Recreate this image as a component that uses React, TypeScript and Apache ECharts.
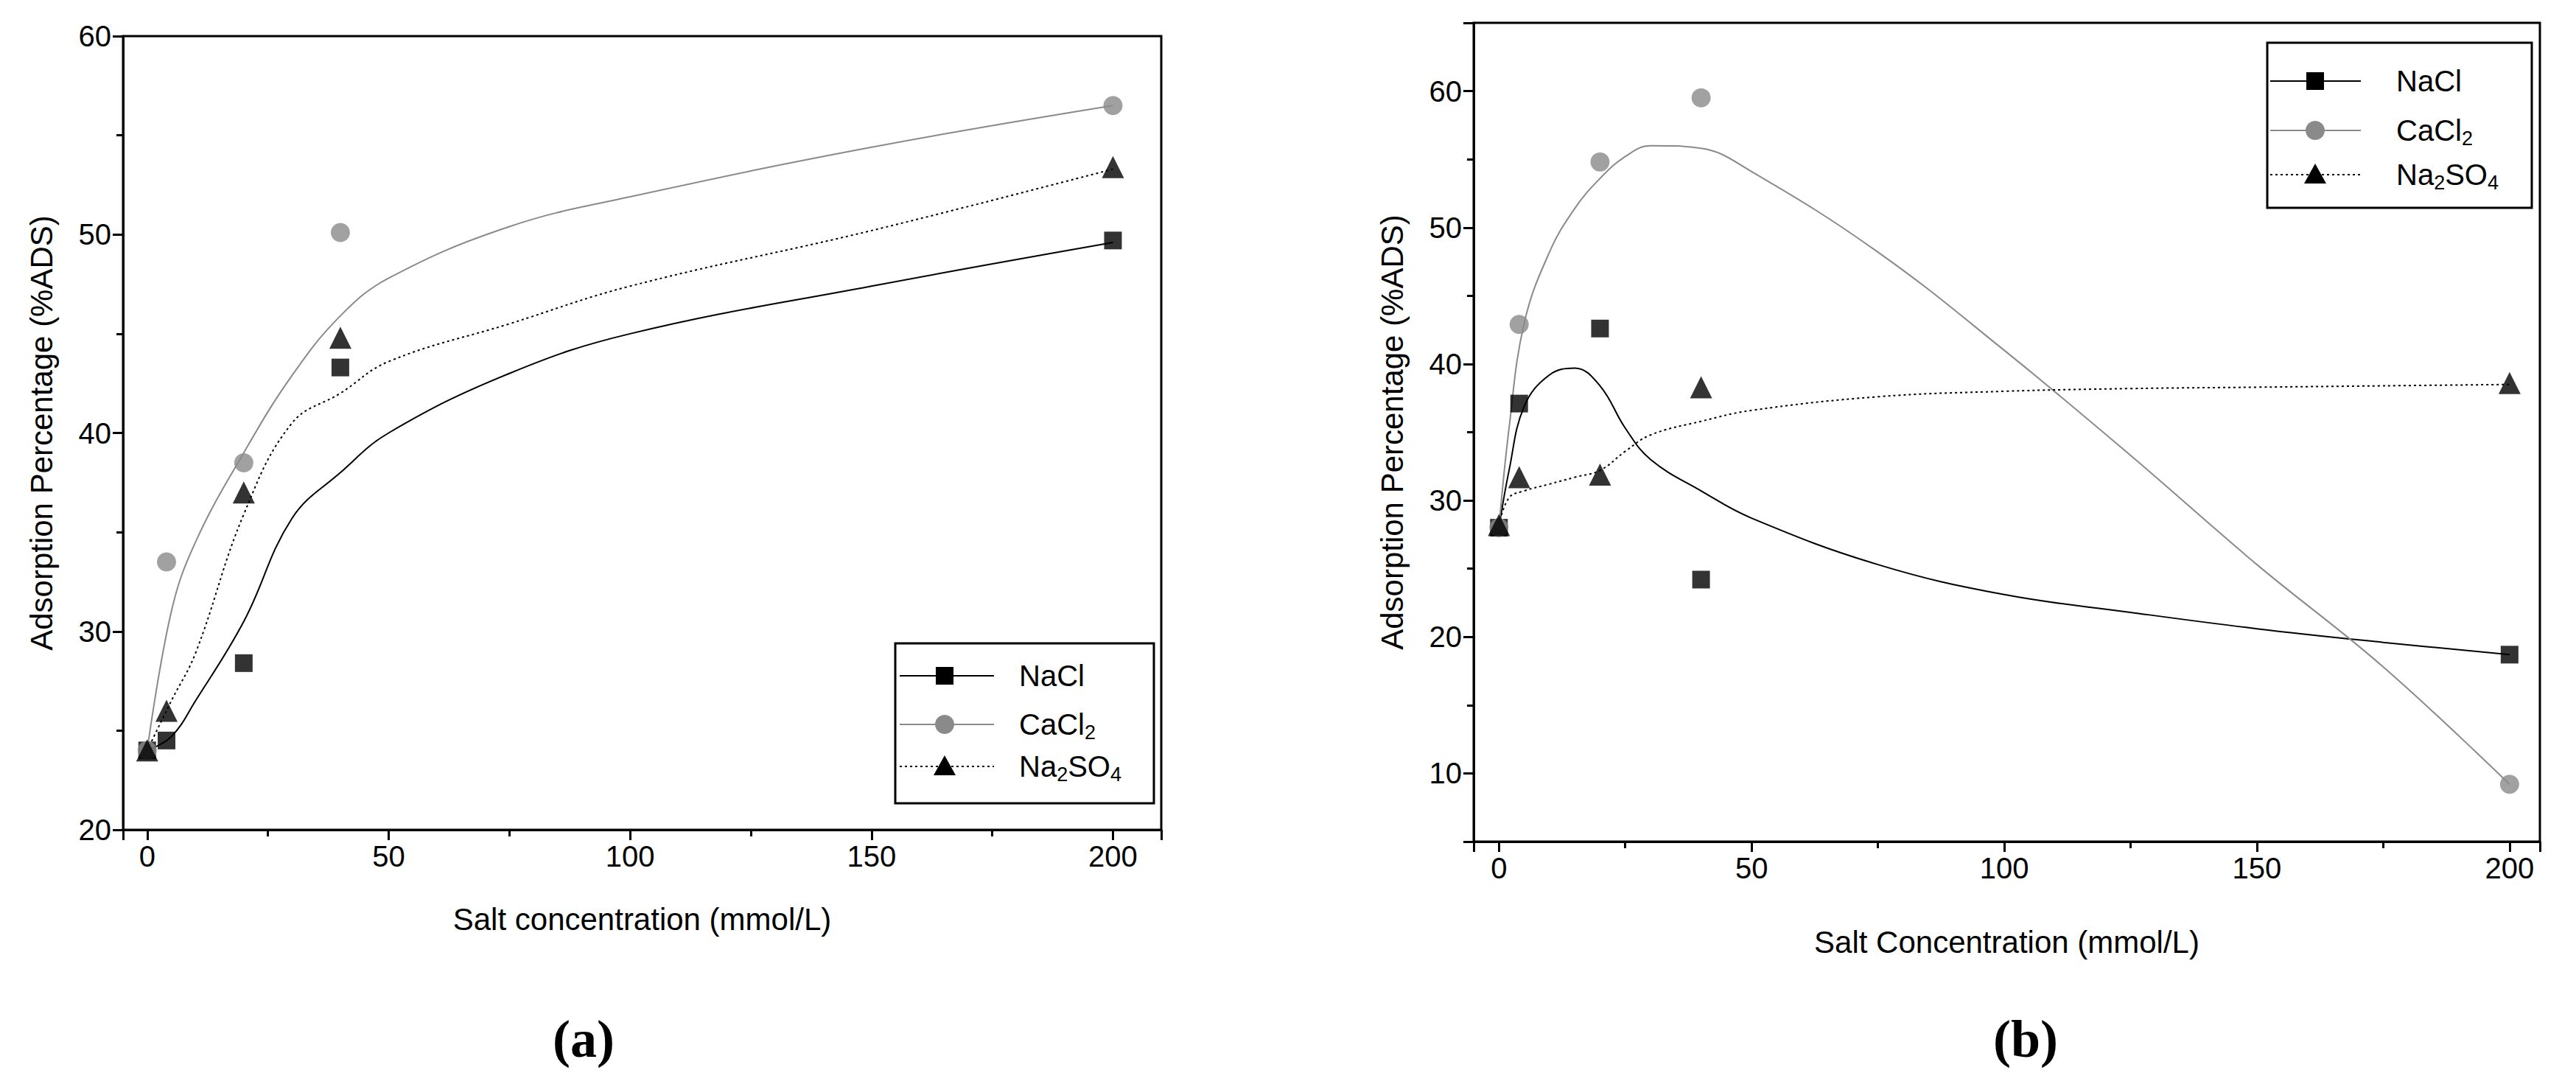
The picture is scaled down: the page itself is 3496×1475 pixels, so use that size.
import React, { useEffect, useRef } from "react";
import * as echarts from "echarts";

// measured points, panel (a)
const concA = [0, 4, 20, 40, 200];
const naclA = [24, 24.5, 28.4, 43.3, 49.7];
const cacl2A = [24, 33.5, 38.5, 50.1, 56.5];
const na2so4A = [24, 26, 37, 44.8, 53.4];

// measured points, panel (b)
const concB = [0, 4, 20, 40, 200];
const naclB = [28, 37.1, 42.6, 24.2, 18.7];
const cacl2B = [28, 42.9, 54.8, 59.5, 9.2];
const na2so4B = [28.2, 31.7, 31.9, 38.3, 38.6];

// fitted curves
const fitXA = [0, 5, 10, 20, 30, 40, 50, 75, 100, 150, 200];
const naclFitA = [24, 24.7, 26.5, 30.5, 35.7, 38, 40, 43, 45, 47.4, 49.6];
const cacl2FitA = [24, 31, 34.5, 39, 42.9, 45.9, 47.8, 50.4, 51.9, 54.4, 56.5];
const na2so4FitA = [24, 26.5, 28.9, 35.9, 40.5, 42, 43.6, 45.5, 47.4, 50.2, 53.3];

const fitXB = [0, 2, 5, 10, 15, 20, 25, 30, 40, 50, 75, 100, 125, 150, 175, 200];
const naclFitB = [28, 32.2, 36.9, 39.2, 39.7, 38.4, 35.3, 33, 30.7, 28.7, 25.3, 23.1, 21.8, 20.6, 19.6, 18.7];
const cacl2FitB = [28, 35.3, 43, 48.2, 51.4, 53.6, 55.2, 56, 55.8, 54.1, 48.2, 41, 33.3, 25.3, 17.8, 9.2];
const na2so4FitB = [28.2, 30.2, 30.7, 31.2, 31.7, 32.2, 33.6, 34.8, 35.8, 36.6, 37.6, 38, 38.2, 38.3, 38.4, 38.5];

const FONT = "'Liberation Sans Narrow', 'Liberation Sans', Arial, sans-serif";
const GRAY = "#8a8a8a";

const zip = (xs: number[], ys: number[]) => xs.map((x, i) => [x, ys[i]]);

const legendItems = (x: number, y: number, w: number, h: number, rows: number[], lx: number[], mx: number, tx: number) => {
  const names = ["NaCl", "CaCl{sub|2}", "Na{sub|2}SO{sub|4}"];
  const lineStyles = [
    { stroke: "#000", lineWidth: 2 },
    { stroke: GRAY, lineWidth: 2 },
    { stroke: "#000", lineWidth: 2, lineDash: [3, 4] },
  ];
  const els: any[] = [
    { type: "rect", shape: { x, y, width: w, height: h }, style: { fill: "#fff", stroke: "#000", lineWidth: 3 } },
  ];
  rows.forEach((ry, i) => {
    els.push({ type: "line", shape: { x1: lx[0], y1: ry, x2: lx[1], y2: ry }, style: lineStyles[i] });
    if (i === 0) els.push({ type: "rect", shape: { x: mx - 12, y: ry - 12, width: 24, height: 24 }, style: { fill: "#000" } });
    if (i === 1) els.push({ type: "circle", shape: { cx: mx, cy: ry, r: 13 }, style: { fill: GRAY } });
    if (i === 2) els.push({ type: "polygon", shape: { points: [[mx, ry - 15], [mx + 15, ry + 12], [mx - 15, ry + 12]] }, style: { fill: "#000" } });
    els.push({
      type: "text",
      x: tx,
      y: ry,
      style: {
        text: names[i],
        font: `40px ${FONT}`,
        fill: "#000",
        verticalAlign: "middle",
        rich: { sub: { fontSize: 27, fontFamily: FONT, padding: [22, 0, 0, 0] } },
      },
    });
  });
  return els;
};

const App: React.FC = () => {
  const ref = useRef<HTMLDivElement>(null);

  useEffect(() => {
    if (!ref.current) return;
    const chart = echarts.init(ref.current, null, { renderer: "svg" });

    const tickLine = { color: "#000", width: 3 };
    const axisCommon = {
      axisLine: { show: true, onZero: false, lineStyle: { color: "#000", width: 3 } },
      axisTick: { show: true, length: 14, lineStyle: tickLine },
      minorTick: { show: true, splitNumber: 2, length: 9, lineStyle: tickLine },
      axisLabel: { color: "#000", fontSize: 40, fontFamily: FONT, margin: 16 },
      splitLine: { show: false },
      nameLocation: "middle",
      nameTextStyle: { color: "#000", fontSize: 42, fontFamily: FONT },
    };
    // hide the labels at the axis ends (extent edges)
    const onlyMultiples = (step: number, lo: number, hi: number) => (v: number) =>
      v % step === 0 && v >= lo && v <= hi ? String(v) : "";

    const curve = (name: string, xi: number, xs: number[], ys: number[], color: string, dotted = false) => ({
      name,
      type: "line",
      xAxisIndex: xi,
      yAxisIndex: xi,
      data: zip(xs, ys),
      smooth: 0.4,
      showSymbol: false,
      lineStyle: { color, width: 2, type: dotted ? [3, 4] : "solid" },
      z: 2,
    });
    const pts = (name: string, xi: number, xs: number[], ys: number[], symbol: string, size: number, color: string) => ({
      name,
      type: "scatter",
      xAxisIndex: xi,
      yAxisIndex: xi,
      data: zip(xs, ys),
      symbol,
      symbolSize: size,
      itemStyle: { color },
      z: 3,
    });

    chart.setOption({
      animation: false,
      backgroundColor: "#fff",
      grid: [
        { left: 167, top: 49, width: 1409, height: 1077, show: true, borderColor: "#000", borderWidth: 3 },
        { left: 2000, top: 31, width: 1447, height: 1111, show: true, borderColor: "#000", borderWidth: 3 },
      ],
      xAxis: [
        {
          ...axisCommon, type: "value", gridIndex: 0, min: -5, max: 210, splitNumber: 4,
          axisLabel: { ...axisCommon.axisLabel, formatter: onlyMultiples(50, 0, 200) },
          name: "Salt concentration (mmol/L)", nameGap: 100,
        },
        {
          ...axisCommon, type: "value", gridIndex: 1, min: -5, max: 206, splitNumber: 4,
          axisLabel: { ...axisCommon.axisLabel, formatter: onlyMultiples(50, 0, 200) },
          name: "Salt Concentration (mmol/L)", nameGap: 115,
        },
      ],
      yAxis: [
        {
          ...axisCommon, type: "value", gridIndex: 0, min: 20, max: 60, interval: 10,
          name: "Adsorption Percentage (%ADS)", nameGap: 90,
        },
        {
          ...axisCommon, type: "value", gridIndex: 1, min: 5, max: 65, splitNumber: 6,
          axisLabel: { ...axisCommon.axisLabel, formatter: onlyMultiples(10, 10, 60) },
          name: "Adsorption Percentage (%ADS)", nameGap: 90,
        },
      ],
      series: [
        curve("NaCl fit a", 0, fitXA, naclFitA, "#000"),
        curve("CaCl2 fit a", 0, fitXA, cacl2FitA, GRAY),
        curve("Na2SO4 fit a", 0, fitXA, na2so4FitA, "#000", true),
        pts("NaCl a", 0, concA, naclA, "rect", 24, "#000"),
        pts("CaCl2 a", 0, concA, cacl2A, "circle", 26, GRAY),
        pts("Na2SO4 a", 0, concA, na2so4A, "triangle", 30, "#000"),
        curve("NaCl fit b", 1, fitXB, naclFitB, "#000"),
        curve("CaCl2 fit b", 1, fitXB, cacl2FitB, GRAY),
        curve("Na2SO4 fit b", 1, fitXB, na2so4FitB, "#000", true),
        pts("NaCl b", 1, concB, naclB, "rect", 24, "#000"),
        pts("CaCl2 b", 1, concB, cacl2B, "circle", 26, GRAY),
        pts("Na2SO4 b", 1, concB, na2so4B, "triangle", 30, "#000"),
      ],
      graphic: [
        ...legendItems(1215, 873, 351, 217, [917, 983, 1040], [1221, 1349], 1282, 1383),
        ...legendItems(3077, 58, 359, 224, [110, 177, 237], [3081, 3204], 3142, 3252),
        { type: "text", x: 792, y: 1410, style: { text: "(a)", font: "bold 72px 'Liberation Serif', serif", fill: "#000", align: "center", verticalAlign: "middle" } },
        { type: "text", x: 2749, y: 1410, style: { text: "(b)", font: "bold 72px 'Liberation Serif', serif", fill: "#000", align: "center", verticalAlign: "middle" } },
      ],
    });

    return () => chart.dispose();
  }, []);

  return <div ref={ref} style={{ position: "fixed", left: 0, top: 0, width: 3496, height: 1475, background: "#fff" }} />;
};

export default App;
